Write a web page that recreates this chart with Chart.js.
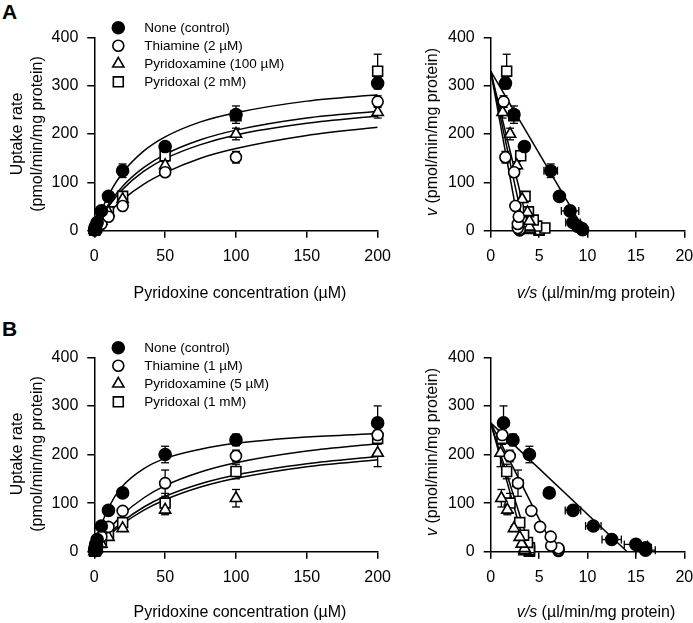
<!DOCTYPE html>
<html>
<head>
<meta charset="utf-8">
<script src="https://cdn.jsdelivr.net/npm/chart.js@4.4.0/dist/chart.umd.min.js"></script>
<style>
  body { margin: 0; background: #fff; width: 693px; height: 623px; overflow: hidden; position: relative;
         font-family: "Liberation Sans", Arial, sans-serif; color: #000; }
  canvas { position: absolute; }
  .t { position: absolute; font-size: 16px; white-space: nowrap; transform: translate(-50%, -50%); }
  .rot { transform: translate(-50%, -50%) rotate(-90deg); text-align: center; line-height: 20px; }
  .letter { position: absolute; font-weight: bold; font-size: 21px; }
</style>
</head>
<body>
<div class="letter" style="left:2px;top:0px">A</div>
<div class="letter" style="left:2px;top:317px">B</div>

<canvas id="aLeft" width="400" height="300" style="left:0;top:0"></canvas>
<canvas id="aRight" width="310" height="300" style="left:400px;top:0"></canvas>
<canvas id="bLeft" width="400" height="300" style="left:0;top:320px"></canvas>
<canvas id="bRight" width="310" height="300" style="left:400px;top:320px"></canvas>

<div class="t rot" style="left:27px;top:134px">Uptake rate<br>(pmol/min/mg protein)</div>
<div class="t" style="left:240px;top:293px">Pyridoxine concentration (µM)</div>
<div class="t rot" style="left:432px;top:132px"><i>v</i> (pmol/min/mg protein)</div>
<div class="t" style="left:596px;top:293px"><i>v/s</i> (µl/min/mg protein)</div>

<div class="t rot" style="left:27px;top:454px">Uptake rate<br>(pmol/min/mg protein)</div>
<div class="t" style="left:240px;top:612px">Pyridoxine concentration (µM)</div>
<div class="t rot" style="left:432px;top:452px"><i>v</i> (pmol/min/mg protein)</div>
<div class="t" style="left:596px;top:612px"><i>v/s</i> (µl/min/mg protein)</div>

<script>
// pyridoxine concentrations (uM)
const conc = [0.2, 0.5, 1, 2, 5, 10, 20, 50, 100, 200];
const fitConc = [0, 5, 10, 20, 35, 50, 75, 100, 150, 200];

const seriesA = ['None (control)', 'Thiamine (2 µM)', 'Pyridoxamine (100 µM)', 'Pyridoxal (2 mM)'];
const seriesB = ['None (control)', 'Thiamine (1 µM)', 'Pyridoxamine (5 µM)', 'Pyridoxal (1 mM)'];

const uptakeTicks = [0, 100, 200, 300, 400];
const concTicks = [0, 50, 100, 150, 200];
const ratioTicks = [0, 5, 10, 15, 20];

// panel A uptake rates (pmol/min/mg protein) and SE
const aControl = [1.9, 4.7, 9, 17, 41, 71, 124, 174, 240, 305];
const aThiamine = [0.6, 1.5, 3, 5.6, 14, 29, 51, 121, 152, 267];
const aPyridoxamine = [0.8, 2, 4, 8, 20, 38, 65, 135, 200, 245];
const aPyridoxal = [1, 2.5, 5.6, 9.5, 22, 39, 71, 155, 238, 330];
const aControlErr = [0.1, 0.2, 0.4, 1.5, 4.5, 4, 14, 10, 18, 12];
const aThiamineErr = [0, 0, 0, 0, 1, 2, 4, 8, 12, 12];
const aPyridoxamineErr = [0, 0, 0, 0, 1, 2, 4, 8, 12, 12];
const aPyridoxalErr = [0, 0, 0, 0, 1, 2, 4, 8, 8, 35];

// panel B
const bControl = [3.2, 8, 15, 25, 53, 85, 121, 200, 230, 265];
const bThiamine = [1.4, 3.5, 7, 12.5, 31, 51, 84, 141, 197, 240];
const bPyridoxamine = [0.7, 1.8, 3.5, 7, 16, 30, 48, 86, 110, 203];
const bPyridoxal = [0.8, 2, 4, 8, 19, 34, 60, 100, 165, 233];
const bControlErr = [0.2, 0.3, 1.2, 2, 4, 8, 4, 17, 12, 35];
const bThiamineErr = [0, 0, 0, 0, 1, 2, 4, 27, 12, 10];
const bPyridoxamineErr = [0, 0, 0, 0, 1, 2, 4, 10, 18, 28];
const bPyridoxalErr = [0, 0, 0, 0, 1, 2, 4, 20, 15, 12];

// fitted Michaelis-Menten curves, read at fitConc
const aControlFit = [0, 41.3, 73.3, 120, 165, 194, 225, 244, 268, 281];
const aThiamineFit = [0, 19.3, 36.1, 64.2, 96.3, 120, 150, 170, 197, 214];
const aPyridoxamineFit = [0, 27.3, 50, 85.5, 123, 149, 178, 198, 222, 237];
const aPyridoxalFit = [0, 29.8, 54.3, 92.1, 131, 158, 188, 208, 233, 247];
const bControlFit = [0, 54.5, 90.4, 135, 171, 192, 211, 223, 236, 243];
const bThiamineFit = [0, 22.2, 44.1, 76.2, 111, 136, 164, 183, 207, 222];
const bPyridoxamineFit = [0, 17.1, 32.1, 57.1, 85.6, 107, 133, 151, 175, 189];
const bPyridoxalFit = [0, 18.9, 35.3, 62.1, 92, 114, 140, 158, 181, 196];

// Eadie-Hofstee regression lines: v intercept and v/s intercept
const aLineStart = 330;
const aLineEnds = [9.7, 3.0, 3.5, 4.0];
const bLineStart = 265;
const bLineEnds = [14.1, 6.7, 3.7, 4.2];

const markers = [
  { pointStyle: 'circle', radius: 6, fill: '#000' },
  { pointStyle: 'circle', radius: 5.5, fill: '#fff' },
  { pointStyle: 'triangle', radius: 6.5, fill: '#fff' },
  { pointStyle: 'rect', radius: 7, fill: '#fff' },
];

Chart.defaults.font.family = "'Liberation Sans', Arial, sans-serif";
Chart.defaults.color = '#000';

const errorBars = {
  id: 'errorBars',
  beforeDatasetsDraw(chart) {
    const { ctx, scales: { x, y } } = chart;
    ctx.save();
    ctx.strokeStyle = '#000';
    ctx.lineWidth = 1.3;
    const seg = (x1, y1, x2, y2) => { ctx.beginPath(); ctx.moveTo(x1, y1); ctx.lineTo(x2, y2); ctx.stroke(); };
    chart.data.datasets.forEach((ds, i) => {
      if (!ds.errY) return;
      chart.getDatasetMeta(i).data.forEach((pt, j) => {
        const p = ds.data[j];
        const ey = ds.errY[j];
        const ex = ds.errX ? ds.errX[j] : 0;
        if (ey > 0) {
          const y1 = y.getPixelForValue(p.y + ey), y2 = y.getPixelForValue(Math.max(p.y - ey, 0));
          seg(pt.x, y1, pt.x, y2);
          seg(pt.x - 4, y1, pt.x + 4, y1);
          seg(pt.x - 4, y2, pt.x + 4, y2);
        }
        if (ex > 0) {
          const x1 = x.getPixelForValue(p.x - ex), x2 = x.getPixelForValue(p.x + ex);
          seg(x1, pt.y, x2, pt.y);
          seg(x1, pt.y - 4, x1, pt.y + 4);
          seg(x2, pt.y - 4, x2, pt.y + 4);
        }
      });
    });
    ctx.restore();
  }
};

function legendPlugin(labels) {
  return {
    id: 'markerLegend',
    afterDraw(chart) {
      const { ctx, chartArea } = chart;
      ctx.save();
      ctx.font = "13.5px 'Liberation Sans', Arial, sans-serif";
      ctx.textBaseline = 'middle';
      ctx.fillStyle = '#000';
      labels.forEach((label, i) => {
        const m = markers[i];
        const cx = chartArea.left + 24;
        const cy = chartArea.top - 9.5 + i * 18;
        ctx.fillStyle = m.fill;
        ctx.strokeStyle = '#000';
        ctx.lineWidth = 1.6;
        Chart.helpers.drawPoint(ctx, { pointStyle: m.pointStyle, radius: m.radius, rotation: 0, borderWidth: 1.6 }, cx, cy);
        ctx.fillStyle = '#000';
        ctx.fillText(label, chartArea.left + 50, cy);
      });
      ctx.restore();
    }
  };
}

function axis(max, ticks, fit) {
  return {
    type: 'linear', min: 0, max: max,
    afterBuildTicks: s => { s.ticks = ticks.map(v => ({ value: v })); },
    ticks: { color: '#000', font: { size: 16 }, padding: 9 },
    grid: { display: true, drawOnChartArea: false, drawTicks: true, tickLength: 7, color: '#000', lineWidth: 1.5 },
    border: { display: true, color: '#000', width: 1.5 },
    afterFit: s => { if (fit.w) s.width = fit.w; if (fit.h) s.height = fit.h; }
  };
}

function pointSet(label, i, pts, errY, errX) {
  const m = markers[i];
  return {
    label, data: pts, errY, errX, order: 0, clip: false,
    pointStyle: m.pointStyle, pointRadius: m.radius, pointBackgroundColor: m.fill,
    pointBorderColor: '#000', pointBorderWidth: 1.6, showLine: false
  };
}

function lineSet(pts, smooth) {
  return {
    data: pts, order: 1, showLine: true, pointRadius: 0, borderColor: '#000', borderWidth: 1.5,
    cubicInterpolationMode: smooth ? 'monotone' : 'default', tension: 0, fill: false
  };
}

function drawPanels(letter, labels, values, errs, fits, lineStart, lineEnds, bottom) {
  // Michaelis-Menten plot
  const left = [];
  fits.forEach(f => left.push(lineSet(fitConc.map((c, k) => ({ x: c, y: f[k] })), true)));
  values.forEach((v, i) => left.push(pointSet(labels[i], i, conc.map((c, k) => ({ x: c, y: v[k] })), errs[i])));
  new Chart(document.getElementById(letter + 'Left'), {
    type: 'scatter',
    data: { datasets: left },
    options: {
      responsive: false, animation: false,
      layout: { padding: { left: 0, top: 37.3, right: 16.5, bottom: 0 } },
      scales: { x: axis(200, concTicks, { h: 300 - 37.3 - bottom }), y: axis(400, uptakeTicks, { w: 94.3 }) },
      plugins: { legend: { display: false }, tooltip: { enabled: false } }
    },
    plugins: [errorBars, legendPlugin(labels)]
  });

  // Eadie-Hofstee plot
  const right = [];
  lineEnds.forEach(e => right.push(lineSet([{ x: 0, y: lineStart }, { x: e, y: 0 }], false)));
  values.forEach((v, i) => right.push(pointSet(labels[i], i,
    conc.map((c, k) => ({ x: v[k] / c, y: v[k] })), errs[i], errs[i].map((e, k) => e / conc[k]))));
  new Chart(document.getElementById(letter + 'Right'), {
    type: 'scatter',
    data: { datasets: right },
    options: {
      responsive: false, animation: false,
      layout: { padding: { left: 0, top: 37.3, right: 25.7, bottom: 0 } },
      scales: { x: axis(20, ratioTicks, { h: 300 - 37.3 - bottom }), y: axis(400, uptakeTicks, { w: 90.7 }) },
      plugins: { legend: { display: false }, tooltip: { enabled: false } }
    },
    plugins: [errorBars]
  });
}

drawPanels('a', seriesA,
  [aControl, aThiamine, aPyridoxamine, aPyridoxal],
  [aControlErr, aThiamineErr, aPyridoxamineErr, aPyridoxalErr],
  [aControlFit, aThiamineFit, aPyridoxamineFit, aPyridoxalFit],
  aLineStart, aLineEnds, 193.4);

drawPanels('b', seriesB,
  [bControl, bThiamine, bPyridoxamine, bPyridoxal],
  [bControlErr, bThiamineErr, bPyridoxamineErr, bPyridoxalErr],
  [bControlFit, bThiamineFit, bPyridoxamineFit, bPyridoxalFit],
  bLineStart, bLineEnds, 194.4);
</script>
</body>
</html>
